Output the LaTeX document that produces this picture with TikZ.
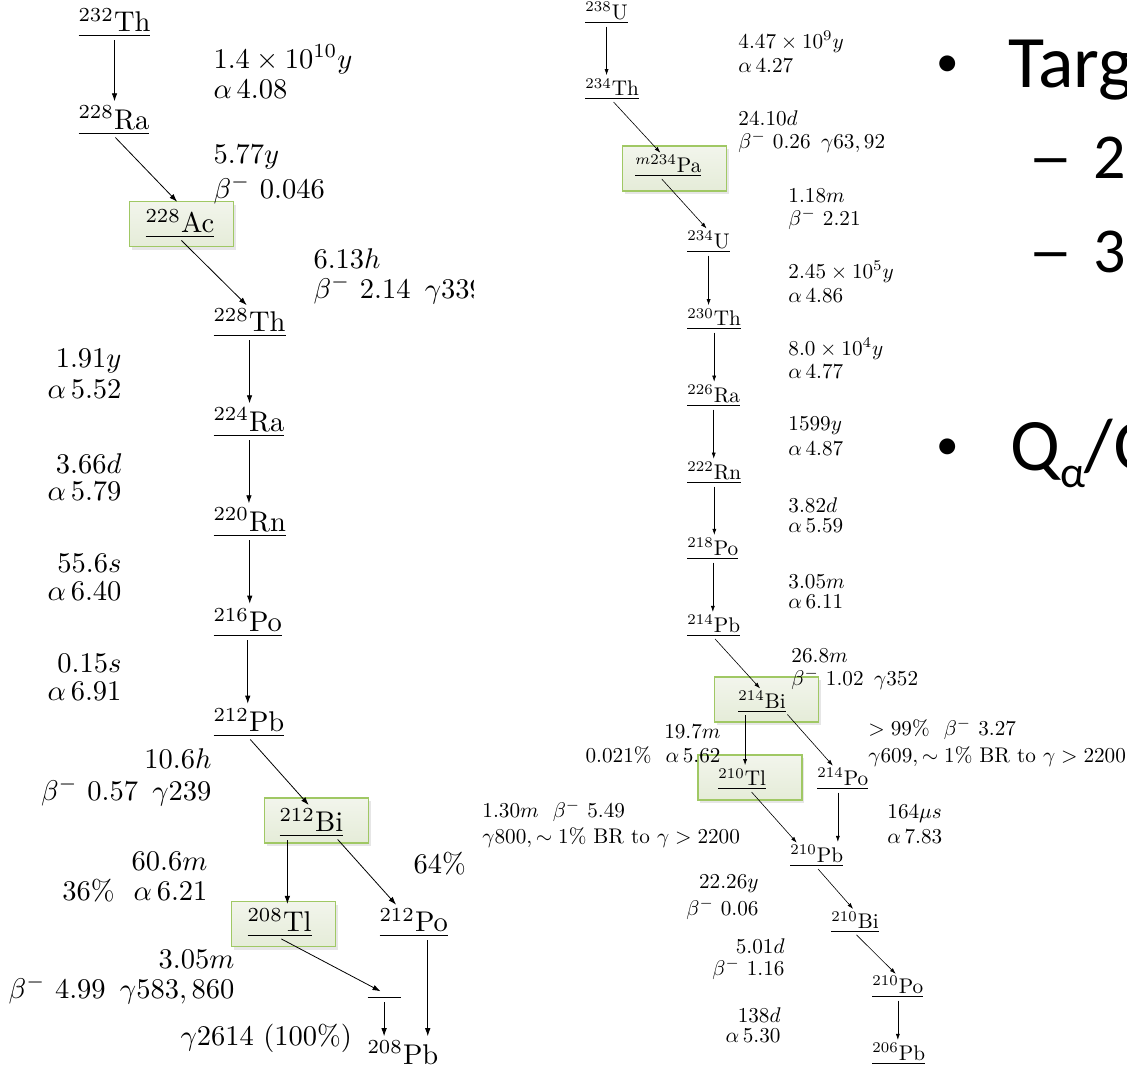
\RequirePackage{fix-cm}
\documentclass[tikz,border=0pt]{standalone}
\usepackage{fontspec}
\usepackage{amsmath}
\usetikzlibrary{positioning, arrows.meta, shadows}
\newfontfamily\slidefont{Carlito}

\definecolor{hlline}{RGB}{160,200,100}
\definecolor{hltop}{RGB}{242,245,236}
\definecolor{hlbottom}{RGB}{229,236,216}

\tikzset{
	iso/.style={inner sep=0pt, anchor=south west},
	lbl/.style={inner sep=0pt, anchor=base west},
	lblr/.style={inner sep=0pt, anchor=base east},
	thchain/.style={font=\fontsize{10}{12}\selectfont, every node/.append style={scale=2.85}},
	uchain/.style={font=\fontsize{10}{12}\selectfont, every node/.append style={scale=2.12}},
	decay/.style={-{Latex[length=8pt,width=5.5pt]}, line width=0.8pt, shorten >=4pt, shorten <=2pt},
	sdecay/.style={-{Latex[length=6pt,width=4pt]}, line width=0.6pt, shorten >=3pt, shorten <=2pt},
	hlbox/.style={draw=hlline, line width=1.8pt, top color=hltop, bottom color=hlbottom,
		minimum width=104pt, minimum height=45pt, inner sep=0pt,
		drop shadow={shadow xshift=2pt, shadow yshift=-3pt, opacity=0.2}},
	slide/.style={inner sep=0pt, anchor=base west, font=\slidefont\fontsize{74}{80}\selectfont},
	subslide/.style={slide, font=\slidefont\fontsize{64}{70}\selectfont},
	bullet/.style={slide, font=\slidefont\fontsize{45}{50}\selectfont},
}

\begin{document}
\begin{tikzpicture}[x=1pt, y=-1pt]
		\useasboundingbox (0,0) rectangle (1127,1069);
		\clip (0,0) rectangle (1127,1069);
		
		%Highlight boxes
		\node[hlbox] (acbox) at (181.5,224) {};
		\node[hlbox] (bi212box) at (316.5,820.5) {};
		\node[hlbox] (tl208box) at (283.5,924) {};
		\node[hlbox] (pabox) at (674.5,168.5) {};
		\node[hlbox] (bi214box) at (766.5,699.5) {};
		\node[hlbox] (tl210box) at (750,777.5) {};
		
		%Thorium series
		\begin{scope}[thchain]
		\node[iso] (th232) at (78,38) {\underline{$^{232}$Th}};
		\node[iso] (ra228) at (78,136) {\underline{$^{228}$Ra}};
		\node[iso] (ac228) at (145,239) {\underline{$^{228}$Ac}};
		\node[iso] (th228) at (213,338) {\underline{$^{228}$Th}};
		\node[iso] (ra224) at (213,438) {\underline{$^{224}$Ra}};
		\node[iso] (rn220) at (213,538) {\underline{$^{220}$Rn}};
		\node[iso] (po216) at (213,638) {\underline{$^{216}$Po}};
		\node[iso] (pb212) at (213,738) {\underline{$^{212}$Pb}};
		\node[iso] (bi212) at (279,838) {\underline{$^{212}$Bi}};
		\node[iso] (tl208) at (247,938) {\underline{$^{208}$Tl}};
		\node[iso] (po212) at (379,938) {\underline{$^{212}$Po}};
		\node[iso] (lvl) at (367,1000) {\underline{\hspace{11.6pt}}};
		\node[lbl] (pb208) at (367,1064) {$^{208}$Pb};
		
		%Half-lives and energies
		\node[lbl] (th232t) at (213,68) {$1.4\times10^{10}y$};
		\node[lbl] (th232e) at (213,98) {$\alpha\,4.08$};
		\node[lbl] (ra228t) at (213,163) {$5.77y$};
		\node[lbl] (ra228e) at (213,198) {$\beta^-\ 0.046$};
		\node[lbl] (ac228t) at (313,268) {$6.13h$};
		\begin{scope}
		\clip (300,240) rectangle (473,320);
		\node[lbl] (ac228e) at (313,298) {$\beta^-\ 2.14\enspace\gamma339$};
		\end{scope}
		\node[lblr] (th228t) at (122,367) {$1.91y$};
		\node[lblr] (th228e) at (122,398) {$\alpha\,5.52$};
		\node[lblr] (ra224t) at (122,473) {$3.66d$};
		\node[lblr] (ra224e) at (122,500) {$\alpha\,5.79$};
		\node[lblr] (rn220t) at (122,572) {$55.6s$};
		\node[lblr] (rn220e) at (122,600) {$\alpha\,6.40$};
		\node[lblr] (po216t) at (122,672) {$0.15s$};
		\node[lblr] (po216e) at (122,700) {$\alpha\,6.91$};
		\node[lblr] (pb212t) at (212,768) {$10.6h$};
		\node[lblr] (pb212e) at (212,800) {$\beta^-\ 0.57\enspace\gamma239$};
		\node[lblr] (bi212t) at (208,870) {$60.6m$};
		\node[lblr] (bi212a) at (208,900) {36\%\ \ $\alpha\,6.21$};
		\node[lbl] (bi212b) at (413,873) {64\%};
		\node[lblr] (tl208t) at (235,968) {$3.05m$};
		\node[lblr] (tl208e) at (235,998) {$\beta^-\ 4.99\enspace\gamma583,860$};
		\node[lbl] (lvlg) at (180,1045) {$\gamma2614$ (100\%)};
		
		%Decays
		\draw[decay] (th232.south) -- (th232.south |- ra228.north);
		\draw[decay] (ra228.south) -- ([yshift=4pt]ac228.north);
		\draw[decay] (ac228.south) -- (th228.north);
		\draw[decay] (th228.south) -- (th228.south |- ra224.north);
		\draw[decay] (ra224.south) -- (ra224.south |- rn220.north);
		\draw[decay] (rn220.south) -- (rn220.south |- po216.north);
		\draw[decay] (po216.south) -- (po216.south |- pb212.north);
		\draw[decay] (pb212.south) -- (bi212.north);
		\draw[decay] ([xshift=-24pt]bi212.south) -- ([xshift=-24pt]bi212.south |- tl208.north);
		\draw[decay] ([xshift=25pt]bi212.south) -- ([xshift=-15pt]po212.north);
		\draw[decay] (tl208.south) -- (lvl.north);
		\draw[decay] (lvl.south) -- (lvl.south |- pb208.north);
		\draw[decay] ([xshift=14pt]po212.south) -- ([xshift=14pt]po212.south |- pb208.north);
		\end{scope}
		
		%Uranium series
		\begin{scope}[uchain]
		\node[iso] (u238) at (585,24.5) {\underline{$^{238}$U}};
		\node[iso] (th234) at (585,100.5) {\underline{$^{234}$Th}};
		\node[iso] (pa234) at (635,177.5) {\underline{$^{m234}$Pa}};
		\node[iso] (u234) at (687,253.5) {\underline{$^{234}$U}};
		\node[iso] (th230) at (687,330.5) {\underline{$^{230}$Th}};
		\node[iso] (ra226) at (687,407.5) {\underline{$^{226}$Ra}};
		\node[iso] (rn222) at (687,484.5) {\underline{$^{222}$Rn}};
		\node[iso] (po218) at (687,560.5) {\underline{$^{218}$Po}};
		\node[iso] (pb214) at (687,637.5) {\underline{$^{214}$Pb}};
		\node[iso] (bi214) at (738,713) {\underline{$^{214}$Bi}};
		\node[iso] (tl210) at (718,790.5) {\underline{$^{210}$Tl}};
		\node[iso] (po214) at (817,790.5) {\underline{$^{214}$Po}};
		\node[iso] (pb210) at (790,867.5) {\underline{$^{210}$Pb}};
		\node[iso] (bi210) at (831,933.5) {\underline{$^{210}$Bi}};
		\node[iso] (po210) at (872,998.5) {\underline{$^{210}$Po}};
		\node[iso] (pb206) at (872,1065.5) {\underline{$^{206}$Pb}};
		
		%Half-lives and energies
		\node[lbl] (u238t) at (738,48) {$4.47\times10^9y$};
		\node[lbl] (u238e) at (738,72) {$\alpha\,4.27$};
		\node[lbl] (th234t) at (738,125) {$24.10d$};
		\node[lbl] (th234e) at (738,148) {$\beta^-\ 0.26\enspace\gamma63,92$};
		\node[lbl] (pa234t) at (788,202) {$1.18m$};
		\node[lbl] (pa234e) at (788,225) {$\beta^-\ 2.21$};
		\node[lbl] (u234t) at (788,278) {$2.45\times10^5y$};
		\node[lbl] (u234e) at (788,302) {$\alpha\,4.86$};
		\node[lbl] (th230t) at (788,355) {$8.0\times10^4y$};
		\node[lbl] (th230e) at (788,378) {$\alpha\,4.77$};
		\node[lbl] (ra226t) at (788,430) {$1599y$};
		\node[lbl] (ra226e) at (788,455) {$\alpha\,4.87$};
		\node[lbl] (rn222t) at (788,512) {$3.82d$};
		\node[lbl] (rn222e) at (788,532) {$\alpha\,5.59$};
		\node[lbl] (po218t) at (788,588) {$3.05m$};
		\node[lbl] (po218e) at (788,608) {$\alpha\,6.11$};
		\node[lbl] (pb214t) at (791,662) {$26.8m$};
		\node[lbl] (pb214e) at (791,685) {$\beta^-\ 1.02\enspace\gamma352$};
		\node[lblr] (bi214t) at (721,738) {$19.7m$};
		\node[lblr] (bi214a) at (721,762) {0.021\%\ \ $\alpha\,5.62$};
		\node[lbl] (bi214b) at (868,735) {$>99\%$\ \ $\beta^-$\ 3.27};
		\node[lbl] (bi214g) at (868,762) {$\gamma609,\sim1\%$ BR to $\gamma>2200$};
		\node[lbl] (tl210t) at (482,817) {$1.30m$\ \ $\beta^-$\ 5.49};
		\node[lbl] (tl210g) at (482,843) {$\gamma800,\sim1\%$ BR to $\gamma>2200$};
		\node[lbl] (po214t) at (887,818) {$164\mu s$};
		\node[lbl] (po214e) at (887,843) {$\alpha\,7.83$};
		\node[lblr] (pb210t) at (759,888) {$22.26y$};
		\node[lblr] (pb210e) at (759,915) {$\beta^-\ 0.06$};
		\node[lblr] (bi210t) at (785,953) {$5.01d$};
		\node[lblr] (bi210e) at (785,975) {$\beta^-\ 1.16$};
		\node[lblr] (po210t) at (781,1022) {$138d$};
		\node[lblr] (po210e) at (781,1042) {$\alpha\,5.30$};
		
		%Decays
		\draw[sdecay] (u238.south) -- (u238.south |- th234.north);
		\draw[sdecay] (th234.south) -- ([xshift=-6pt]pa234.north);
		\draw[sdecay] ([xshift=-8pt]pa234.south) -- (u234.north);
		\draw[sdecay] (u234.south) -- (u234.south |- th230.north);
		\draw[sdecay] (th230.south) -- (th230.south |- ra226.north);
		\draw[sdecay] (ra226.south) -- (ra226.south |- rn222.north);
		\draw[sdecay] (rn222.south) -- (rn222.south |- po218.north);
		\draw[sdecay] (po218.south) -- (po218.south |- pb214.north);
		\draw[sdecay] (pb214.south) -- (bi214.north);
		\draw[sdecay] ([xshift=-17pt]bi214.south) -- ([xshift=-17pt]bi214.south |- tl210.north);
		\draw[sdecay] ([xshift=24pt]bi214.south) -- ([xshift=-8pt]po214.north);
		\draw[sdecay] ([xshift=8pt]tl210.south) -- ([xshift=-18pt]pb210.north);
		\draw[sdecay] ([xshift=-5pt]po214.south) -- ([xshift=-5pt]po214.south |- pb210.north);
		\draw[sdecay] (pb210.south) -- (bi210.north);
		\draw[sdecay] (bi210.south) -- (po210.north);
		\draw[sdecay] (po210.south) -- (po210.south |- pb206.north);
		\end{scope}
		
		%Slide text
		\node[bullet] (dot1) at (936,76) {•};
		\node[slide] (targ) at (1008,87) {Targ};
		\node[subslide] (dash1) at (1028,178) {\scalebox{1.4}[1]{–}};
		\node[subslide] (sub1) at (1093,178) {2};
		\node[subslide] (dash2) at (1028,272) {\scalebox{1.4}[1]{–}};
		\node[subslide] (sub2) at (1093,272) {3};
		\node[bullet] (dot2) at (936,459) {•};
		\node[slide] (qratio) at (1010,470) {Q\raisebox{-17pt}{\fontsize{44}{44}\selectfont α}/Q};
		
\end{tikzpicture}
\end{document}
